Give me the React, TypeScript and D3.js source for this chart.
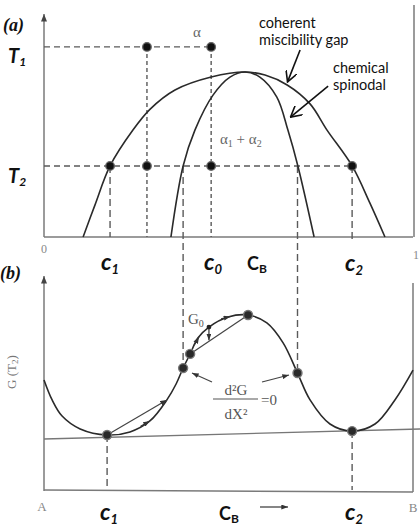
import React from "react";
import * as d3 from "d3";

// ---------- data (composition 0..1, temperature / free energy in arbitrary units 0..100) ----------
// (a) coherent miscibility gap
const gapX = [0.106, 0.138, 0.179, 0.241, 0.287, 0.355, 0.453, 0.545, 0.599, 0.659, 0.721, 0.767, 0.835, 0.883, 0.924];
const gapT = [0, 14.5, 32.3, 48.6, 58, 66.8, 72.7, 75, 73.6, 69.1, 60.5, 48.6, 32.3, 15.5, 0];
// (a) chemical spinodal
const spinX = [0.344, 0.377, 0.409, 0.458, 0.504, 0.545, 0.585, 0.631, 0.661, 0.688, 0.732];
const spinT = [0, 32.3, 48.6, 64.5, 72.7, 75, 72.7, 63.6, 48.6, 32.3, 0];
// temperatures
const T1 = 86.4;
const T2 = 32.3;
// compositions
const cAlpha = 0.279;
const c0 = 0.453;
const c1 = 0.179;
const c2 = 0.835;
const spinL = 0.377;
const spinR = 0.687;
// points in (a)
const ptsAX = [cAlpha, c0, c1, cAlpha, c0, c2];
const ptsAT = [T1, T1, T2, T2, T2, T2];

// (b) free energy curve G(T2)
const gX = [0, 0.022, 0.049, 0.098, 0.171, 0.233, 0.287, 0.333, 0.358, 0.377, 0.396, 0.417, 0.447, 0.499, 0.553, 0.604, 0.648, 0.687, 0.721, 0.775, 0.835, 0.897, 0.951, 1.0];
const gY = [51.2, 41.9, 34.4, 28.4, 25.6, 27.0, 32.1, 41.9, 49.3, 56.7, 63.3, 70.7, 75.8, 80.5, 81.4, 77.7, 68.4, 54.4, 41.9, 30.7, 27.4, 30.7, 41.9, 55.8];
// indices of marked points on G
const gMarked = [4, 9, 10, 14, 17, 20];
const gZeroIdx = 12;
// common tangent
const tanX = [0, 1.02];
const tanY = [23.7, 28.4];
// chords [fromIdx, toIdx]
const chords = [[4, 7], [10, 14]];
// small arrows on curve [x0, g0, x1, g1]
const curveArrows = [
  [0.262, 29.6, 0.287, 32.1],
  [0.407, 67.3, 0.42, 71.2],
  [0.48, 79.6, 0.505, 80.7],
  [0.447, 75.0, 0.447, 69.6],
];

// label arrows in (a) [x0,T0,x1,T1]
const labelArrows = [
  [0.694, 85, 0.66, 70.5],
  [0.77, 68.6, 0.668, 54.5],
];

const W = 420;
const H = 528;

export default function App() {
  const x = d3.scaleLinear().domain([0, 1]).range([44, 413]);
  const yA = d3.scaleLinear().domain([0, 100]).range([237, 17]);
  const yB = d3.scaleLinear().domain([0, 100]).range([490, 275]);

  const lineA = d3
    .line<[number, number]>()
    .x((d) => x(d[0]))
    .y((d) => yA(d[1]))
    .curve(d3.curveCatmullRom.alpha(0.5));
  const lineB = d3
    .line<[number, number]>()
    .x((d) => x(d[0]))
    .y((d) => yB(d[1]))
    .curve(d3.curveCatmullRom.alpha(0.5));

  const gap = gapX.map((v, i) => [v, gapT[i]] as [number, number]);
  const spin = spinX.map((v, i) => [v, spinT[i]] as [number, number]);
  const gCurve = gX.map((v, i) => [v, gY[i]] as [number, number]);

  const dashCol = "#5a5a5a";
  const curveCol = "#2a2a2a";
  const axisCol = "#7a7a7a";
  const grayText = "#666";
  const boldIt: React.CSSProperties = {
    fontFamily: "Lato, 'Open Sans', sans-serif",
    fontWeight: 700,
    fontStyle: "italic",
  };
  const serif = "'Liberation Serif', 'DejaVu Serif', serif";
  const sans = "Lato, 'Open Sans', sans-serif";

  const cLabel = (main: string, sub: string, px: number, py: number, key: string) => (
    <text key={key} x={px} y={py} fill="#111" style={boldIt} fontSize={23}>
      {main}
      <tspan fontSize={13} dy={4}>{sub}</tspan>
    </text>
  );
  const CBLabel = (px: number, py: number) => (
    <text x={px} y={py} fill="#111" fontFamily={sans} fontWeight={700} fontSize={18}>
      C<tspan fontSize={12} dy={3}>B</tspan>
    </text>
  );

  return (
    <svg
      width={W}
      height={H}
      viewBox={`0 0 ${W} ${H}`}
      style={{ position: "absolute", left: 0, top: 0, background: "#fff" }}
    >
      <defs>
        <marker id="axArrow" viewBox="0 0 8 10" refX={4} refY={0} markerWidth={6} markerHeight={8} orient="0" markerUnits="userSpaceOnUse">
          <path d="M0,10 L4,0 L8,10 Z" fill="#444" />
        </marker>
        <marker id="openArrow" viewBox="0 0 12 12" refX={11} refY={6} markerWidth={12} markerHeight={12} orient="auto" markerUnits="userSpaceOnUse">
          <path d="M0,0 L11,6 L0,12" fill="none" stroke="#111" strokeWidth={1.6} />
        </marker>
        <marker id="fillArrow" viewBox="0 0 8 6" refX={8} refY={3} markerWidth={7} markerHeight={5} orient="auto" markerUnits="userSpaceOnUse">
          <path d="M0,0 L8,3 L0,6 Z" fill="#333" />
        </marker>
      </defs>

      {/* ---------------- Panel (a) ---------------- */}
      <line x1={x(0)} x2={x(0)} y1={yA(0)} y2={14} stroke={axisCol} strokeWidth={1.5} markerEnd="url(#axArrow)" />
      <line x1={x(0)} x2={x(1)} y1={yA(0)} y2={yA(0)} stroke={axisCol} strokeWidth={1.5} />
      <line x1={x(1) + 1} x2={x(1) + 1} y1={yA(0)} y2={5} stroke={axisCol} strokeWidth={1.5} />
      <text x={x(0)} y={253} textAnchor="middle" fontFamily={serif} fontSize={12} fill="#888">0</text>
      <text x={x(1) + 3} y={259} textAnchor="middle" fontFamily={serif} fontSize={12} fill="#888">1</text>

      {/* dashed guides */}
      <line x1={x(0)} x2={x(c0)} y1={yA(T1)} y2={yA(T1)} stroke={dashCol} strokeWidth={1.4} strokeDasharray="6,4" />
      <line x1={x(0)} x2={x(c2)} y1={yA(T2)} y2={yA(T2)} stroke={dashCol} strokeWidth={1.4} strokeDasharray="6,4" />
      <line x1={x(cAlpha)} x2={x(cAlpha)} y1={yA(T1)} y2={yA(0)} stroke={dashCol} strokeWidth={1.4} strokeDasharray="4,3" />
      <line x1={x(c0)} x2={x(c0)} y1={yA(T1)} y2={yA(0)} stroke={dashCol} strokeWidth={1.4} strokeDasharray="4,3" />
      <line x1={x(c1)} x2={x(c1)} y1={yA(T2)} y2={yA(0)} stroke={dashCol} strokeWidth={1.4} strokeDasharray="7,4" />
      <line x1={x(c2)} x2={x(c2)} y1={yA(T2)} y2={yA(0) + 3} stroke={dashCol} strokeWidth={1.4} strokeDasharray="7,4" />
      <line x1={x(spinL)} x2={x(spinL)} y1={yA(T2)} y2={yB(gY[9])} stroke={dashCol} strokeWidth={1.4} strokeDasharray="7,4" />
      <line x1={x(spinR)} x2={x(spinR)} y1={yA(T2)} y2={yB(gY[17])} stroke={dashCol} strokeWidth={1.4} strokeDasharray="7,4" />

      {/* curves */}
      <path d={lineA(gap) || ""} fill="none" stroke={curveCol} strokeWidth={1.6} />
      <path d={lineA(spin) || ""} fill="none" stroke={curveCol} strokeWidth={1.6} />

      {ptsAX.map((v, i) => (
        <circle key={"pa" + i} cx={x(v)} cy={yA(ptsAT[i])} r={4.3} fill="#111" stroke="#666" strokeWidth={1.3} />
      ))}

      {labelArrows.map((a, i) => (
        <line key={"la" + i} x1={x(a[0])} y1={yA(a[1])} x2={x(a[2])} y2={yA(a[3])} stroke="#111" strokeWidth={1.6} markerEnd="url(#openArrow)" />
      ))}

      <text x={259} y={28} fontFamily={sans} fontSize={14.5} fill="#111">coherent</text>
      <text x={259} y={45} fontFamily={sans} fontSize={14.5} fill="#111">miscibility gap</text>
      <text x={333} y={73} fontFamily={sans} fontSize={14.5} fill="#111">chemical</text>
      <text x={333} y={90} fontFamily={sans} fontSize={14.5} fill="#111">spinodal</text>

      <text x={197} y={37} textAnchor="middle" fontFamily={serif} fontSize={15} fill={grayText}>α</text>
      <text x={220} y={144} fontFamily={serif} fontSize={15} fill={grayText}>
        α<tspan fontSize={10} dy={3}>1</tspan>
        <tspan dy={-3}> + α</tspan>
        <tspan fontSize={10} dy={3}>2</tspan>
      </text>

      <text x={3} y={31} fontFamily={serif} fontWeight={700} fontStyle="italic" fontSize={18} fill="#111">(a)</text>
      <text x={8} y={63} style={boldIt} fontSize={20} fill="#111">
        T<tspan fontSize={12} dy={3}>1</tspan>
      </text>
      <text x={8} y={183} style={boldIt} fontSize={20} fill="#111">
        T<tspan fontSize={12} dy={3}>2</tspan>
      </text>

      {cLabel("c", "1", 101, 270, "ca1")}
      {cLabel("c", "0", 204, 270, "ca0")}
      {CBLabel(247, 270)}
      {cLabel("c", "2", 345, 271, "ca2")}

      {/* ---------------- Panel (b) ---------------- */}
      <text x={0} y={279} fontFamily={serif} fontWeight={700} fontStyle="italic" fontSize={18} fill="#111">(b)</text>
      <line x1={x(0)} x2={x(0)} y1={yB(0) + 1} y2={276} stroke={axisCol} strokeWidth={1.5} markerEnd="url(#axArrow)" />
      <line x1={x(0)} x2={x(1)} y1={yB(0)} y2={yB(0) + 2} stroke={axisCol} strokeWidth={1.5} />
      <line x1={x(1)} x2={x(1)} y1={yB(0) + 2} y2={283} stroke={axisCol} strokeWidth={1.5} />

      <text
        transform={`translate(16, 372) rotate(-90)`}
        textAnchor="middle"
        fontFamily={serif}
        fontSize={13}
        fill="#777"
      >
        G (T<tspan fontSize={9} dy={2}>2</tspan>
        <tspan dy={-2}>)</tspan>
      </text>

      {/* tangent */}
      <line x1={x(tanX[0])} y1={yB(tanY[0])} x2={x(tanX[1])} y2={yB(tanY[1])} stroke="#777" strokeWidth={1.4} />

      {/* dashed to axis */}
      <line x1={x(gX[4])} x2={x(gX[4])} y1={yB(gY[4])} y2={yB(0)} stroke={dashCol} strokeWidth={1.4} strokeDasharray="7,4" />
      <line x1={x(gX[20])} x2={x(gX[20])} y1={yB(gY[20])} y2={yB(0)} stroke={dashCol} strokeWidth={1.4} strokeDasharray="7,4" />

      <path d={lineB(gCurve) || ""} fill="none" stroke={curveCol} strokeWidth={1.6} />

      {chords.map((c, i) => (
        <line
          key={"ch" + i}
          x1={x(gX[c[0]])}
          y1={yB(gY[c[0]])}
          x2={x(gX[c[1]])}
          y2={yB(gY[c[1]])}
          stroke="#444"
          strokeWidth={1.2}
          markerEnd={i === 0 ? "url(#fillArrow)" : undefined}
        />
      ))}
      {curveArrows.map((a, i) => (
        <line key={"ca" + i} x1={x(a[0])} y1={yB(a[1])} x2={x(a[2])} y2={yB(a[3])} stroke="#333" strokeWidth={1.2} markerEnd="url(#fillArrow)" />
      ))}

      {gMarked.map((idx, i) => (
        <circle key={"pb" + i} cx={x(gX[idx])} cy={yB(gY[idx])} r={4.5} fill="#2a2a2a" stroke="#777" strokeWidth={1.4} />
      ))}
      <circle cx={x(gX[gZeroIdx])} cy={yB(gY[gZeroIdx])} r={2.4} fill="#222" />

      <text x={188} y={324} fontFamily={serif} fontSize={15} fill="#555">
        G<tspan fontSize={10} dy={3}>0</tspan>
      </text>

      {/* d2G/dX2 = 0 */}
      <line x1={212} y1={382} x2={192} y2={373} stroke="#444" strokeWidth={1.2} markerEnd="url(#fillArrow)" />
      <line x1={262} y1={382} x2={289} y2={375} stroke="#444" strokeWidth={1.2} markerEnd="url(#fillArrow)" />
      <text x={236} y={395} textAnchor="middle" fontFamily={serif} fontSize={15} fill="#555">d²G</text>
      <line x1={213} x2={258} y1={399} y2={399} stroke="#555" strokeWidth={1.1} />
      <text x={236} y={419} textAnchor="middle" fontFamily={serif} fontSize={15} fill="#555">dX²</text>
      <text x={261} y={405} fontFamily={serif} fontSize={15} fill="#555">=0</text>

      {/* bottom labels */}
      <text x={42} y={511} textAnchor="middle" fontFamily={serif} fontSize={13} fill="#888">A</text>
      <text x={413} y={512} textAnchor="middle" fontFamily={serif} fontSize={13} fill="#888">B</text>
      {cLabel("c", "1", 100, 520, "cb1")}
      {CBLabel(219, 520)}
      <line x1={260} x2={288} y1={507} y2={507} stroke="#444" strokeWidth={1.3} markerEnd="url(#fillArrow)" />
      {cLabel("c", "2", 345, 520, "cb2")}
    </svg>
  );
}
